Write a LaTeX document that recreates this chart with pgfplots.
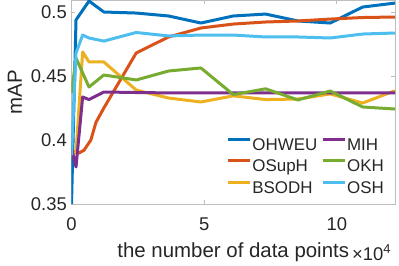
\documentclass[border=0pt]{standalone}
\usepackage{pgfplots}
\pgfplotsset{compat=1.18}
\usetikzlibrary{calc}
\usepackage{fontspec}
\setmainfont{Liberation Sans}
\definecolor{cA}{HTML}{0072BD}
\definecolor{cB}{HTML}{D95319}
\definecolor{cC}{HTML}{EDB120}
\definecolor{cD}{HTML}{7E2F8E}
\definecolor{cE}{HTML}{77AC30}
\definecolor{cF}{HTML}{4DBEEE}
\definecolor{axgray}{HTML}{BDBDBD}
\definecolor{txt}{HTML}{262626}
\begin{document}
\begin{tikzpicture}
\begin{axis}[name=ax, at={(0,0)}, anchor=south west,
  scale only axis, width=323.5bp, height=203.5bp,
  xmin=0, xmax=12.19, ymin=0.35, ymax=0.509,
  xtick={0,5,10}, xticklabels={0,5,10},
  ytick={0.35,0.4,0.45,0.5}, yticklabels={0.35,0.4,0.45,0.5},
  scaled x ticks=false, scaled y ticks=false,
  tick align=inside, major tick length=4bp,
  axis line style={draw=axgray, line width=0.9bp},
  every tick/.style={draw=axgray, line width=0.9bp},
  tick label style={font=\fontsize{18.5}{20}\selectfont, text=txt, inner sep=0pt},
  xticklabel style={anchor=base, yshift=-26bp},
  yticklabel style={anchor=east, xshift=-4.5bp},
  xlabel={the number of data points},
  xlabel style={at={(axis description cs:0.5,0)}, anchor=base, yshift=-53bp, font=\fontsize{20.5}{22}\selectfont, text=txt, inner sep=0pt},
  ylabel={mAP},
  ylabel style={at={([xshift=-49.5bp]axis description cs:0,0.55)}, anchor=base, rotate=0, font=\fontsize{20.5}{22}\selectfont, text=txt, inner sep=0pt},
  legend columns=2,
  legend cell align=left,
  legend style={at={(1,0)}, anchor=south east, draw=none, fill=white,
    font=\fontsize{17}{19}\selectfont, text=txt,
    inner xsep=10bp, inner ysep=7bp, row sep=5.5bp,
    nodes={inner xsep=1bp, inner ysep=0bp, text height=12.5bp, text depth=3.5bp},
    /tikz/every even column/.append style={column sep=3bp}},
  legend image code/.code={\draw[#1, line width=2.8bp] (0bp,6.5bp) -- (22bp,6.5bp);},
  every axis plot/.append style={line width=3bp, line join=round, forget plot},
]
% OHWEU
\addplot[cA] coordinates {(0,0.35) (0.17,0.4938) (0.66,0.5086) (1.219,0.5) (2.438,0.4992) (3.657,0.4969) (4.876,0.4914) (6.095,0.4969) (7.314,0.4984) (8.533,0.493) (9.752,0.4914) (10.971,0.5039) (12.19,0.507)};
% OSupH
\addplot[cB] coordinates {(0.05,0.391) (0.28,0.3898) (0.47,0.392) (0.73,0.400) (0.92,0.4137) (1.219,0.425) (2.438,0.468) (3.657,0.4805) (4.876,0.4875) (6.095,0.4906) (7.314,0.4922) (8.533,0.493) (9.752,0.4945) (10.971,0.4957) (12.19,0.4961)};
% BSODH
\addplot[cC] coordinates {(0,0.389) (0.17,0.39) (0.42,0.4688) (0.66,0.461) (1.219,0.461) (2.438,0.439) (3.657,0.4328) (4.876,0.4297) (6.095,0.4345) (7.314,0.4316) (8.533,0.432) (9.752,0.436) (10.971,0.4289) (12.19,0.4385)};
% MIH
\addplot[cD] coordinates {(0,0.3938) (0.17,0.3789) (0.42,0.4336) (0.66,0.4316) (1.219,0.4375) (2.438,0.4371) (3.657,0.4368) (4.876,0.4368) (6.095,0.4368) (7.314,0.4368) (8.533,0.4368) (9.752,0.4368) (10.971,0.4368) (12.19,0.4368)};
% OKH
\addplot[cE] coordinates {(0,0.4367) (0.17,0.464) (0.66,0.4414) (1.219,0.4508) (2.438,0.4469) (3.657,0.4539) (4.876,0.4563) (6.095,0.4355) (7.314,0.44) (8.533,0.4313) (9.752,0.4383) (10.971,0.4258) (12.19,0.4242)};
% OSH
\addplot[cF] coordinates {(0,0.388) (0.17,0.468) (0.42,0.482) (0.66,0.4797) (1.219,0.4773) (2.438,0.484) (3.657,0.4813) (4.876,0.482) (6.095,0.482) (7.314,0.4805) (8.533,0.4805) (9.752,0.4797) (10.971,0.4828) (12.19,0.4836)};
\addlegendimage{cA}\addlegendentry{OHWEU}
\addlegendimage{cD}\addlegendentry{MIH}
\addlegendimage{cB}\addlegendentry{OSupH}
\addlegendimage{cE}\addlegendentry{OKH}
\addlegendimage{cC}\addlegendentry{BSODH}
\addlegendimage{cF}\addlegendentry{OSH}
\end{axis}
\node[anchor=base west, inner sep=0pt, font=\fontsize{18.5}{20}\selectfont, text=txt] at ($(ax.south east)+(-43bp,-56bp)$) {×10\textsuperscript{4}};
\pgfresetboundingbox
\path ($(ax.south west)+(-71.5bp,-62bp)$) rectangle ($(ax.north east)+(4bp,0.5bp)$);
\end{tikzpicture}
\end{document}
